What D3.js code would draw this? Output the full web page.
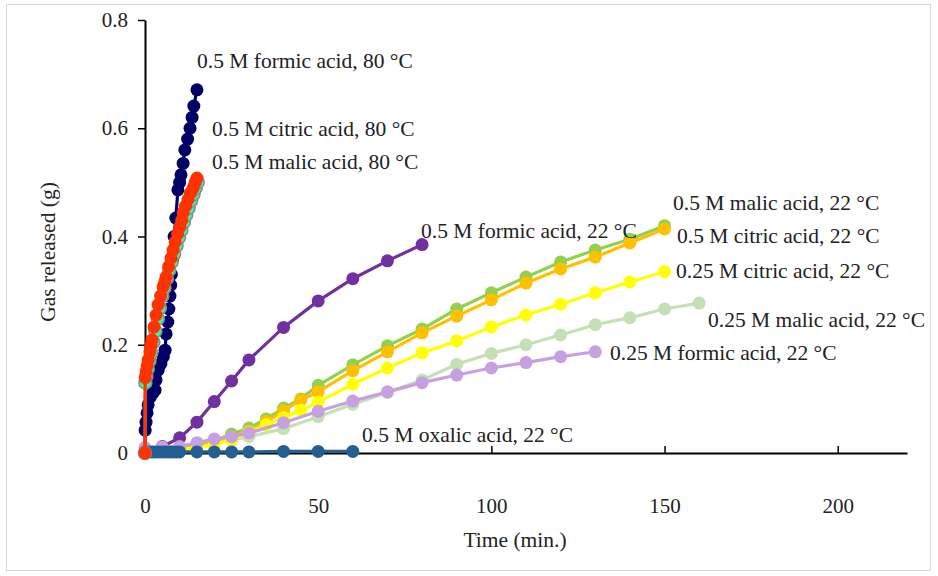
<!DOCTYPE html>
<html>
<head>
<meta charset="utf-8">
<script src="https://cdn.jsdelivr.net/npm/d3@7"></script>
<style>
  body { margin: 0; background: #fff; }
  svg { font-family: "Liberation Serif", "Times New Roman", serif; }
  .lbl { font-size: 21.5px; fill: #222; font-family: "Liberation Serif", serif; }
</style>
</head>
<body>
<svg width="938" height="576"></svg>
<script>
// 80 °C runs (dense sampling)
var tFormic80 = [0, 0.05, 0.3, 0.6, 0.9, 1.5, 2.2, 2.9, 3.2, 3.8, 4.6, 5.3, 5.8, 6.1, 6.6, 6.9, 7.2, 7.4, 7.6, 8.0, 8.4, 8.9, 9.5, 10.0, 10.4, 11.0, 11.5, 12.3, 13.0, 13.6, 14.1, 15.0];
var vFormic80 = [0, 0.042, 0.057, 0.074, 0.089, 0.103, 0.110, 0.116, 0.135, 0.153, 0.165, 0.178, 0.19, 0.22, 0.242, 0.266, 0.29, 0.31, 0.33, 0.36, 0.40, 0.434, 0.486, 0.50, 0.514, 0.535, 0.56, 0.58, 0.60, 0.62, 0.641, 0.671];

var tCitric80 = [0, 0.1, 0.4, 0.8, 1.3, 1.8, 2.4, 3.0, 3.7, 4.3, 5.0, 5.6, 6.3, 7.0, 7.7, 8.4, 9.1, 9.8, 10.5, 11.2, 11.9, 12.6, 13.3, 14.0, 14.6, 15.2];
var vCitric80 = [0, 0.13, 0.142, 0.155, 0.17, 0.185, 0.205, 0.225, 0.248, 0.268, 0.29, 0.305, 0.322, 0.338, 0.353, 0.368, 0.383, 0.398, 0.412, 0.426, 0.44, 0.453, 0.466, 0.478, 0.489, 0.5];

var tMalic80 = [0, 0.05, 0.3, 0.6, 0.9, 1.4, 1.7, 2.0, 2.6, 3.2, 3.8, 4.5, 5.2, 5.7, 6.1, 6.8, 7.5, 8.1, 8.7, 9.4, 10.1, 10.6, 11.0, 11.7, 12.4, 13.1, 13.9, 14.5, 15.0];
var vMalic80 = [0, 0.139, 0.150, 0.161, 0.172, 0.187, 0.199, 0.209, 0.233, 0.255, 0.274, 0.290, 0.307, 0.316, 0.325, 0.344, 0.36, 0.375, 0.39, 0.405, 0.418, 0.43, 0.444, 0.456, 0.468, 0.48, 0.49, 0.50, 0.508];

// 22 °C runs
var tFormic22 = [0, 5, 10, 15, 20, 25, 30, 40, 50, 60, 70, 80];
var vFormic22 = [0, 0.012, 0.028, 0.057, 0.095, 0.133, 0.172, 0.232, 0.281, 0.322, 0.355, 0.385];

var t22 = [0, 5, 10, 15, 20, 25, 30, 35, 40, 45, 50, 60, 70, 80, 90, 100, 110, 120, 130, 140, 150];
var vMalic22 = [0, 0.005, 0.01, 0.015, 0.022, 0.035, 0.046, 0.063, 0.083, 0.1, 0.125, 0.163, 0.198, 0.229, 0.266, 0.296, 0.325, 0.353, 0.375, 0.395, 0.42];
var vCitric22 = [0, 0.004, 0.008, 0.012, 0.02, 0.03, 0.04, 0.058, 0.078, 0.098, 0.113, 0.152, 0.187, 0.222, 0.253, 0.283, 0.314, 0.34, 0.362, 0.388, 0.414];
var vCitric25 = [0, 0.003, 0.006, 0.01, 0.016, 0.025, 0.038, 0.052, 0.065, 0.079, 0.094, 0.127, 0.157, 0.185, 0.207, 0.233, 0.255, 0.275, 0.296, 0.316, 0.335];

var tMalic25 = [0, 5, 10, 15, 20, 25, 30, 40, 50, 60, 70, 80, 90, 100, 110, 120, 130, 140, 150, 160];
var vMalic25 = [0, 0.005, 0.008, 0.012, 0.018, 0.024, 0.03, 0.045, 0.067, 0.09, 0.112, 0.135, 0.164, 0.184, 0.2, 0.218, 0.237, 0.25, 0.266, 0.277];

var tFormic25 = [0, 5, 10, 15, 20, 25, 30, 40, 50, 60, 70, 80, 90, 100, 110, 120, 130];
var vFormic25 = [0.01, 0.011, 0.012, 0.019, 0.026, 0.03, 0.037, 0.056, 0.077, 0.096, 0.113, 0.13, 0.144, 0.157, 0.167, 0.178, 0.187];

var tOxalic = [0, 1, 2, 3, 4, 5, 6, 7, 8, 9, 10, 15, 20, 25, 30, 40, 50, 60];
var vOxalic = [0.002, 0.002, 0.002, 0.002, 0.002, 0.002, 0.002, 0.002, 0.002, 0.002, 0.002, 0.002, 0.002, 0.002, 0.002, 0.003, 0.003, 0.003];

var yTicks = [0, 0.2, 0.4, 0.6, 0.8];
var xTicks = [0, 50, 100, 150, 200];

// series, drawn bottom to top
var series = [
  {name: "0.5 M formic acid, 22 °C", t: tFormic22, v: vFormic22, color: "#7030a0", lx: 421, ly: 238},
  {name: "0.25 M malic acid, 22 °C", t: tMalic25, v: vMalic25, color: "#c5e0b4", lx: 708, ly: 327},
  {name: "0.5 M malic acid, 22 °C", t: t22, v: vMalic22, color: "#92d050", lx: 673, ly: 210},
  {name: "0.5 M citric acid, 22 °C", t: t22, v: vCitric22, color: "#ffc000", lx: 677, ly: 243},
  {name: "0.25 M citric acid, 22 °C", t: t22, v: vCitric25, color: "#ffff00", lx: 676, ly: 278},
  {name: "0.25 M formic acid, 22 °C", t: tFormic25, v: vFormic25, color: "#c6a0e0", lx: 610, ly: 360},
  {name: "0.5 M oxalic acid, 22 °C", t: tOxalic, v: vOxalic, color: "#255e91", lx: 362, ly: 442},
  {name: "0.5 M formic acid, 80 °C", t: tFormic80, v: vFormic80, color: "#000066", lx: 197, ly: 68},
  {name: "0.5 M citric acid, 80 °C", t: tCitric80, v: vCitric80, color: "#3cf0a8", stroke: "#8a8a8a", lx: 212, ly: 136},
  {name: "0.5 M malic acid, 80 °C", t: tMalic80, v: vMalic80, color: "#ff3300", lx: 212, ly: 169}
];

var svg = d3.select("svg");

svg.append("rect")
  .attr("x", 6.5).attr("y", 4.5)
  .attr("width", 924).attr("height", 566)
  .attr("fill", "none").attr("stroke", "#d9d9d9");

var x = d3.scaleLinear().domain([0, 220]).range([145, 907]);
var y = d3.scaleLinear().domain([0, 0.8]).range([453, 20]);

var xAxis = svg.append("g")
  .attr("transform", "translate(0," + y(0) + ")")
  .call(d3.axisBottom(x).tickValues(xTicks).tickSize(-7).tickSizeOuter(0).tickPadding(45)
    .tickFormat(d3.format("d")));
xAxis.select(".domain").attr("stroke", "#000").attr("stroke-width", 2);
xAxis.selectAll(".tick line").attr("stroke", "#000").attr("stroke-width", 1.5)
  .filter(function(d) { return d === 0; }).remove();

var yAxis = svg.append("g")
  .attr("transform", "translate(" + x(0) + ",0)")
  .call(d3.axisLeft(y).tickValues(yTicks).tickSize(7).tickSizeOuter(0).tickPadding(10)
    .tickFormat(function(d) { return d === 0 ? "0" : d.toFixed(1); }));
yAxis.select(".domain").attr("stroke", "#000").attr("stroke-width", 2);
yAxis.selectAll(".tick line").attr("stroke", "#000").attr("stroke-width", 1.5);

[xAxis, yAxis].forEach(function(a) {
  a.attr("font-family", "Liberation Serif, serif").attr("font-size", 21);
  a.selectAll("text").attr("fill", "#222");
});

var line = d3.line()
  .x(function(d) { return x(d[0]); })
  .y(function(d) { return y(d[1]); });

series.forEach(function(s) {
  var pts = s.t.map(function(t, i) { return [t, s.v[i]]; });
  var g = svg.append("g");
  g.append("path")
    .datum(pts)
    .attr("d", line)
    .attr("fill", "none")
    .attr("stroke", s.stroke || s.color)
    .attr("stroke-width", 3.2);
  g.selectAll("circle")
    .data(pts)
    .enter()
    .append("circle")
    .attr("cx", function(d) { return x(d[0]); })
    .attr("cy", function(d) { return y(d[1]); })
    .attr("r", 6.5)
    .attr("fill", s.color)
    .attr("stroke", s.stroke || "none")
    .attr("stroke-width", s.stroke ? 1.5 : 0);
});

// series labels
svg.append("g").selectAll("text")
  .data(series)
  .enter()
  .append("text")
  .attr("class", "lbl")
  .attr("x", function(d) { return d.lx; })
  .attr("y", function(d) { return d.ly; })
  .text(function(d) { return d.name; });

svg.append("text")
  .attr("class", "lbl")
  .attr("x", 515).attr("y", 547)
  .attr("text-anchor", "middle")
  .text("Time (min.)");

svg.append("text")
  .attr("class", "lbl")
  .attr("transform", "translate(55,252) rotate(-90)")
  .attr("text-anchor", "middle")
  .text("Gas released (g)");
</script>
</body>
</html>
